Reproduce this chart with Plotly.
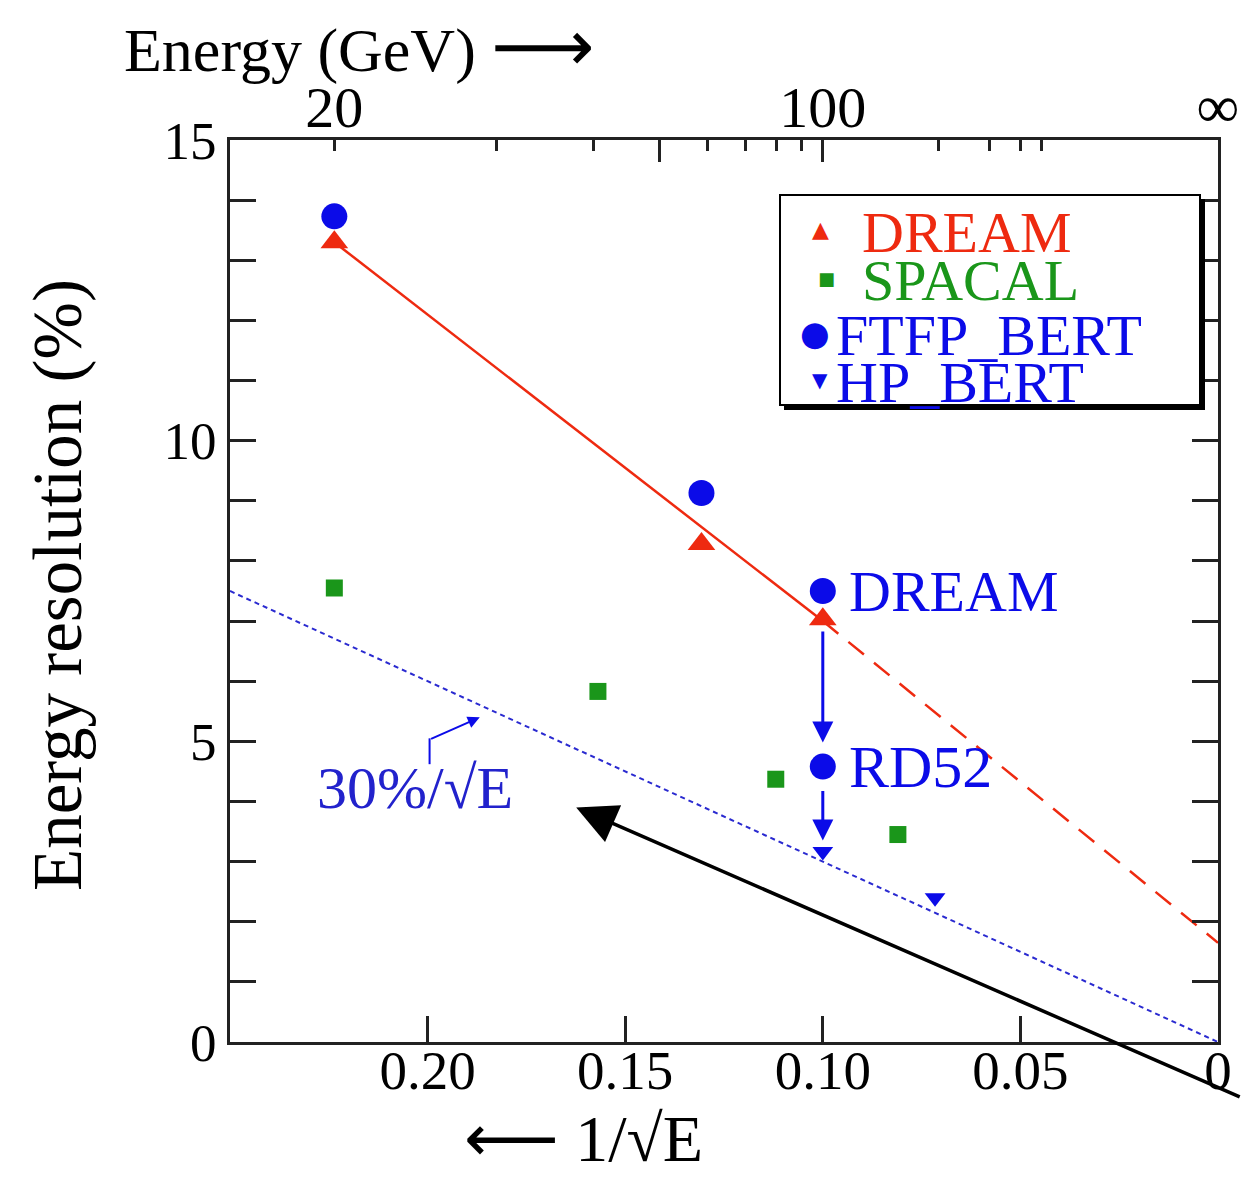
import math
import plotly.graph_objects as go

# ---------------- data ----------------
dream_x = [0.2236, 0.1307, 0.1000]
dream_y = [13.30, 8.28, 7.03]

spacal_x = [0.2236, 0.1569, 0.1119, 0.0810]
spacal_y = [7.55, 5.83, 4.37, 3.45]

ftfp_x = [0.2236, 0.1307, 0.1000, 0.1000]
ftfp_y = [13.73, 9.13, 7.50, 4.58]

hp_x = [0.1000, 0.0716]
hp_y = [3.17, 2.40]

fit_solid_x = [0.2236, 0.1000]
fit_solid_y = [13.30, 7.00]
fit_dash_x = [0.1000, 0.0]
fit_dash_y = [7.00, 1.65]

stoch30_x = [0.25, 0.0]
stoch30_y = [7.5, 0.0]

bottom_tickvals = [0.20, 0.15, 0.10, 0.05, 0.0]
bottom_ticktext = ["0.20", "0.15", "0.10", "0.05", "0"]
y_tickvals = [0, 5, 10, 15]
y_ticktext = ["0", "5", "10", "15"]

top_label_E = [20, 100, math.inf]
top_label_text = ["20", "100", "<span style='font-size:60px'>∞</span>"]
top_major_E = [50, 100]
top_minor_E = [20, 30, 40, 60, 70, 80, 90, 200, 300, 400, 500]

# ---------------- style ----------------
W, H = 1243, 1177
ML, MR, MT, MB = 230, 25, 140, 135
RED = "#ee2a10"
GREEN = "#1a961a"
BLUE = "#0b0be8"
AX = "#222222"
SERIF = "Liberation Serif"


def inv_sqrt(e):
    return 0.0 if math.isinf(e) else 1.0 / math.sqrt(e)


def px(xp):
    return (xp - ML) / (W - ML - MR)


def py(yp):
    return 1 - (yp - MT) / (H - MT - MB)


fig = go.Figure()

# fit line for DREAM data
fig.add_trace(go.Scatter(x=fit_solid_x, y=fit_solid_y, mode="lines",
                         line=dict(color=RED, width=2.5), showlegend=False, hoverinfo="skip"))
fig.add_trace(go.Scatter(x=fit_dash_x, y=fit_dash_y, mode="lines",
                         line=dict(color=RED, width=2.5, dash="20px,13px"), showlegend=False, hoverinfo="skip"))
# 30%/sqrt(E) line
fig.add_trace(go.Scatter(x=stoch30_x, y=stoch30_y, mode="lines",
                         line=dict(color="#2a2ad0", width=2, dash="5px,4px"), showlegend=False, hoverinfo="skip"))

fig.add_trace(go.Scatter(x=spacal_x, y=spacal_y, mode="markers", name="SPACAL",
                         marker=dict(symbol="square", size=17, color=GREEN), showlegend=False))
fig.add_trace(go.Scatter(x=ftfp_x, y=ftfp_y, mode="markers", name="FTFP_BERT",
                         marker=dict(symbol="circle", size=26, color=BLUE), showlegend=False))
fig.add_trace(go.Scatter(x=dream_x, y=dream_y, mode="markers", name="DREAM",
                         marker=dict(symbol="triangle-up", size=24, color=RED), showlegend=False))
fig.add_trace(go.Scatter(x=hp_x, y=hp_y, mode="markers", name="HP_BERT",
                         marker=dict(symbol="triangle-down", size=18, color=BLUE), showlegend=False))

# invisible anchors for top axes
fig.add_trace(go.Scatter(x=[0.25], y=[0], xaxis="x2", mode="markers", marker=dict(opacity=0),
                         showlegend=False, hoverinfo="skip"))
fig.add_trace(go.Scatter(x=[0.25], y=[0], xaxis="x3", mode="markers", marker=dict(opacity=0),
                         showlegend=False, hoverinfo="skip"))

fig.update_layout(
    width=W, height=H,
    margin=dict(l=ML, r=MR, t=MT, b=MB, autoexpand=False),
    paper_bgcolor="white", plot_bgcolor="white",
    showlegend=False,
    xaxis=dict(range=[0.25, 0], showline=True, linewidth=3, linecolor=AX, automargin=False,
               ticks="inside", ticklen=26, tickwidth=3, tickcolor=AX,
               tickmode="array", tickvals=bottom_tickvals, ticktext=bottom_ticktext,
               tickfont=dict(family=SERIF, size=55, color="black"), ticklabelstandoff=-22,
               ticklabeloverflow="allow",
               showgrid=False, zeroline=False),
    xaxis2=dict(range=[0.25, 0], overlaying="x", side="top", anchor="y", automargin=False,
                showline=True, linewidth=3, linecolor=AX,
                ticks="inside", ticklen=22, tickwidth=3, tickcolor=AX,
                tickmode="array", tickvals=[inv_sqrt(e) for e in top_major_E],
                ticktext=["" for _ in top_major_E],
                minor=dict(tickmode="array", tickvals=[inv_sqrt(e) for e in top_minor_E],
                           ticks="inside", ticklen=11, tickwidth=2.5, tickcolor=AX),
                showgrid=False, zeroline=False),
    xaxis3=dict(range=[0.25, 0], overlaying="x", side="top", anchor="y", automargin=False,
                showline=False, ticks="", tickmode="array",
                tickvals=[inv_sqrt(e) for e in top_label_E], ticktext=top_label_text,
                tickfont=dict(family=SERIF, size=58, color="black"), ticklabelstandoff=0,
                ticklabeloverflow="allow",
                showgrid=False, zeroline=False),
    yaxis=dict(range=[0, 15], showline=True, linewidth=3, linecolor=AX, mirror="allticks",
               automargin=False,
               ticks="inside", ticklen=26, tickwidth=3, tickcolor=AX,
               tickmode="array", tickvals=y_tickvals, ticktext=y_ticktext,
               minor=dict(dtick=1, ticks="inside", ticklen=15, tickwidth=2.5, tickcolor=AX),
               tickfont=dict(family=SERIF, size=53, color="black"), showgrid=False, zeroline=False),
)

annotations = []
# axis titles
annotations.append(dict(xref="paper", yref="paper", x=px(58), y=py(585), xanchor="center", yanchor="middle",
                        text="Energy resolution (%)", textangle=-90, showarrow=False,
                        font=dict(family=SERIF, size=69, color="black")))
annotations.append(dict(xref="paper", yref="paper", x=px(122), y=py(46), xanchor="left", yanchor="middle",
                        text="Energy (GeV) <span style='font-family:DejaVu Sans;font-size:72px'>⟶</span>",
                        showarrow=False, font=dict(family=SERIF, size=62, color="black")))
annotations.append(dict(xref="paper", yref="paper", x=px(462), y=py(1138), xanchor="left", yanchor="middle",
                        text="<span style='font-family:DejaVu Sans;font-size:66px'>⟵</span> 1/√E",
                        showarrow=False, font=dict(family=SERIF, size=66, color="black")))

# point labels
annotations.append(dict(x=0.1, y=7.5, xanchor="left", yanchor="middle", xshift=24, text="DREAM",
                        showarrow=False, font=dict(family=SERIF, size=58, color=BLUE)))
annotations.append(dict(x=0.1, y=4.58, xanchor="left", yanchor="middle", xshift=24, text="RD52",
                        showarrow=False, font=dict(family=SERIF, size=60, color=BLUE)))
annotations.append(dict(x=0.2284, y=4.23, xanchor="left", yanchor="middle",
                        text="30%/√E", showarrow=False,
                        font=dict(family=SERIF, size=60, color="#2222cc")))

# blue arrows
annotations.append(dict(x=0.1, y=4.98, ax=0.1, ay=6.85, axref="x", ayref="y", text="",
                        showarrow=True, arrowhead=2, arrowsize=1.4, arrowwidth=3, arrowcolor=BLUE))
annotations.append(dict(x=0.1, y=3.35, ax=0.1, ay=4.2, axref="x", ayref="y", text="",
                        showarrow=True, arrowhead=2, arrowsize=1.4, arrowwidth=3, arrowcolor=BLUE))
# small hook arrow to 30% line
annotations.append(dict(x=0.1868, y=5.40, ax=0.1995, ay=5.03, axref="x", ayref="y", text="",
                        showarrow=True, arrowhead=2, arrowsize=1.2, arrowwidth=2, arrowcolor=BLUE))
# big black arrow
annotations.append(dict(x=0.1624, y=3.90, ax=665, ay=290, text="", showarrow=True,
                        arrowhead=2, arrowsize=2.3, arrowwidth=3.5, arrowcolor="black"))

# manual legend
leg_rows = [
    ("▲", 22, RED, 820, "DREAM", 860, 230),
    ("■", 18, GREEN, 826, "SPACAL", 860, 278),
    ("●", 34, BLUE, 815, "FTFP_BERT", 834, 333),
    ("▼", 20, BLUE, 820, "HP_BERT", 834, 380),
]
for sym, ssize, col, sx, label, tx, ty in leg_rows:
    annotations.append(dict(xref="paper", yref="paper", x=px(sx), y=py(ty), xanchor="center", yanchor="middle",
                            text=sym, showarrow=False,
                            font=dict(family="DejaVu Sans", size=ssize, color=col)))
    annotations.append(dict(xref="paper", yref="paper", x=px(tx), y=py(ty + 2), xanchor="left", yanchor="middle",
                            text=label, showarrow=False, font=dict(family=SERIF, size=58, color=col)))

fig.update_layout(annotations=annotations)

shapes = [
    # hook vertical line
    dict(type="line", xref="x", yref="y", x0=0.1995, x1=0.1995, y0=4.62, y1=5.05,
         line=dict(color=BLUE, width=2)),
    # legend shadow and box
    dict(type="rect", xref="paper", yref="paper", x0=px(784), x1=px(1205), y0=py(410), y1=py(199),
         fillcolor="black", line=dict(width=0), layer="above"),
    dict(type="rect", xref="paper", yref="paper", x0=px(780), x1=px(1200), y0=py(405), y1=py(195),
         fillcolor="white", line=dict(color="black", width=2), layer="above"),
]
fig.update_layout(shapes=shapes)

fig.write_html("out.html")
